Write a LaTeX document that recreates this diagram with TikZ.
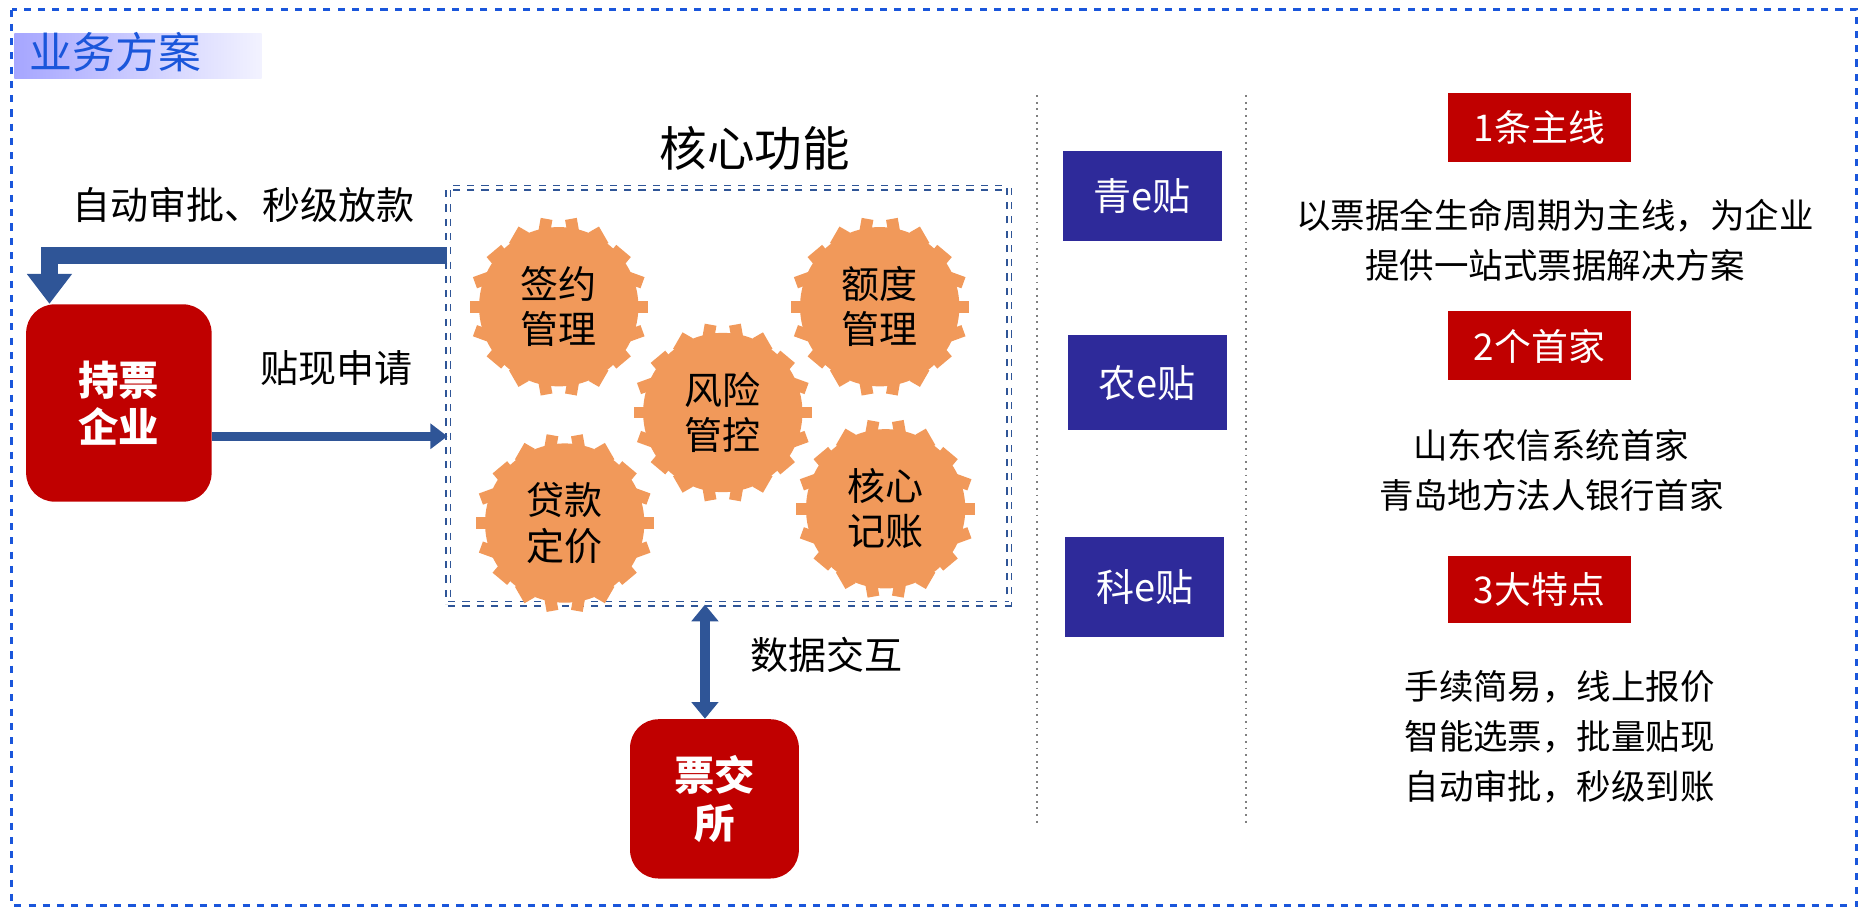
\documentclass[tikz,border=0pt]{standalone}
\usepackage{fontspec}
\setmainfont{Noto Sans CJK SC}
\usetikzlibrary{calc, arrows.meta, positioning}
\definecolor{frameblue}{HTML}{1A56DB}
\definecolor{arrowblue}{HTML}{2F5597}
\definecolor{gearorange}{HTML}{F1995A}
\definecolor{boxred}{HTML}{C00000}
\definecolor{boxpurple}{HTML}{2E2A9A}
\tikzset{
    red box/.style={fill=boxred, text=white, rounded corners=12pt, font=\bfseries\fontsize{17}{20}\selectfont, align=center},
    tag box/.style={fill=boxred, text=white, minimum width=77pt, minimum height=29pt, font=\fontsize{15.5}{18}\selectfont},
    prod box/.style={fill=boxpurple, text=white, minimum width=67pt, minimum height=38pt, font=\fontsize{16}{18}\selectfont},
    label text/.style={font=\fontsize{16}{19}\selectfont},
    info text/.style={font=\fontsize{14.5}{21}\selectfont, align=center},
    flow arrow/.style={draw=arrowblue, line width=#1, -{Triangle[width=2.6*#1, length=1.8*#1]}},
    gear text/.style={font=\fontsize{16}{19}\selectfont, align=center, text=black}
}
\newcommand{\gearat}[3]{%
    \foreach \a in {0,20,...,340}
        \node[fill=gearorange, inner sep=0pt, minimum width=5pt, minimum height=8pt, rotate=\a-90]
            at ($(#1)+(\a:67)$) {};
    \fill[gearorange] (#1) circle[radius=33.5pt];
    \node[gear text] (#2) at (#1) {#3};
}
\begin{document}
\begin{tikzpicture}[x=0.5pt, y=-0.5pt]
    \useasboundingbox (0,0) rectangle (1568,766);
    \draw[frameblue, dashed, line width=1.3pt] (10,8) rectangle (1562,762);

    % title
    \shade[left color=blue!35!white, right color=blue!5!white] (12,28) rectangle (220,66);
    \node[anchor=west, text=frameblue, font=\fontsize{18}{20}\selectfont] (title) at (18,44) {业务方案};

    % core functions
    \node[font=\fontsize{20}{22}\selectfont] (coretitle) at (635,125) {核心功能};
    \node[draw=arrowblue, dashed, double, line width=0.6pt, double distance=1.2pt, minimum width=236pt, minimum height=175pt] (core) at (613,333) {};
    \coordinate (g1) at (470,258);
    \coordinate (g2) at (740,258);
    \coordinate (g3) at (608,347);
    \coordinate (g4) at (475,440);
    \coordinate (g5) at (745,428);
    \gearat{g1}{sign}{签约\\管理}
    \gearat{g2}{quota}{额度\\管理}
    \gearat{g3}{risk}{风险\\管控}
    \gearat{g4}{price}{贷款\\定价}
    \gearat{g5}{ledger}{核心\\记账}

    % enterprise and exchange
    \node[red box, minimum width=78pt, minimum height=83pt] (holder) at (100,339) {持票\\企业};
    \node[red box, minimum width=71pt, minimum height=67pt] (exch) at (601,672) {票交\\所};

    \draw[flow arrow=7pt] (core.west |- 0,215) -| ($(holder.north west)+(20,0)$);
    \draw[flow arrow=4pt] (holder.east |- 0,367) -- (core.west |- 0,367);
    \draw[draw=arrowblue, line width=4pt, {Triangle[width=11pt, length=7pt]}-{Triangle[width=11pt, length=7pt]}] (core.south -| 593,0) -- (exch.north -| 593,0);

    \node[label text] (auto) at (205,172) {自动审批、秒级放款};
    \node[label text] (apply) at (283,310) {贴现申请};
    \node[label text] (data) at (695,551) {数据交互};

    % separators
    \draw[gray, dotted, thick] (872,80) -- (872,692);
    \draw[gray, dotted, thick] (1048,80) -- (1048,692);

    % products
    \node[prod box] (qing) at (961,165) {青e贴};
    \node[prod box, minimum height=40pt] (nong) at (965,322) {农e贴};
    \node[prod box, minimum height=42pt] (ke) at (963,494) {科e贴};

    % highlights
    \node[tag box] (main) at (1295,107) {1条主线};
    \node[info text] (maintext) at (1308,202) {以票据全生命周期为主线，为企业\\提供一站式票据解决方案};
    \node[tag box] (first) at (1295,291) {2个首家};
    \node[info text] (firsttext) at (1305,396) {山东农信系统首家\\青岛地方法人银行首家};
    \node[tag box, minimum height=28pt] (feat) at (1295,496) {3大特点};
    \node[info text] (feattext) at (1312,620) {手续简易，线上报价\\智能选票，批量贴现\\自动审批，秒级到账};
\end{tikzpicture}
\end{document}
